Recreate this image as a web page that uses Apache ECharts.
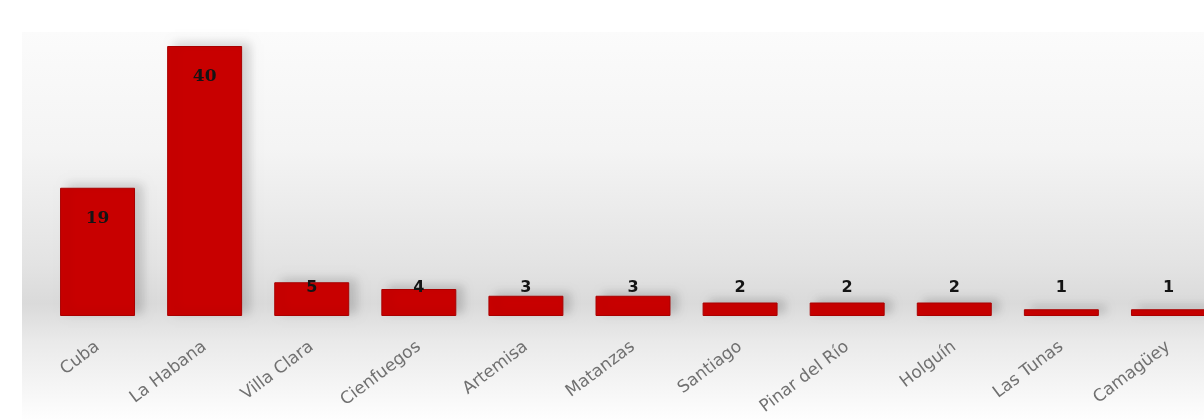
<!DOCTYPE html>
<html>
<head>
<meta charset="utf-8">
<script src="https://cdn.jsdelivr.net/npm/echarts@6/dist/echarts.min.js"></script>
<style>
  html, body { margin: 0; padding: 0; background: #ffffff; overflow: hidden; }
  /* the drawing runs a little past the right edge of the window, so the last bar is cut */
  #chart { width: 1222px; height: 420px; }
</style>
</head>
<body>
<div id="chart"></div>
<script>
// Provinces and their counts
const provinces = ['Cuba', 'La Habana', 'Villa Clara', 'Cienfuegos', 'Artemisa', 'Matanzas',
  'Santiago', 'Pinar del Río', 'Holguín', 'Las Tunas', 'Camagüey'];
const counts = [19, 40, 5, 4, 3, 3, 2, 2, 2, 1, 1];
const axisMax = 40;

const chart = echarts.init(document.getElementById('chart'), null, { renderer: 'canvas' });

// Tall bars carry their number inside the top; short bars show it just above the baseline band
const barData = counts.map(function (v) {
  const tall = v >= 10;
  return {
    value: v,
    label: tall
      ? { position: 'insideTop', distance: 22, fontFamily: 'DejaVu Serif', fontSize: 17 }
      : { position: 'insideBottom', distance: 20, fontFamily: 'DejaVu Sans', fontSize: 16 }
  };
});

chart.setOption({
  backgroundColor: '#ffffff',
  animation: false,
  graphic: [{
    type: 'rect',
    silent: true,
    z: -10,
    shape: { x: 22, y: 32, width: 1200, height: 388 },
    style: {
      fill: new echarts.graphic.LinearGradient(0, 0, 0, 1, [
        { offset: 0, color: '#fbfbfb' },
        { offset: 0.3, color: '#f4f4f4' },
        { offset: 0.6, color: '#e3e3e3' },
        { offset: 0.7, color: '#dadada' },
        { offset: 0.8, color: '#eaeaea' },
        { offset: 1, color: '#fefefe' }
      ])
    }
  }],
  grid: { left: 44, right: 0, top: 46, bottom: 104, containLabel: false },
  xAxis: {
    type: 'category',
    data: provinces,
    axisLine: { show: false },
    axisTick: { show: false },
    axisLabel: {
      rotate: 37,
      margin: 29,
      interval: 0,
      color: '#707070',
      fontFamily: 'DejaVu Sans',
      fontSize: 17
    }
  },
  yAxis: {
    type: 'value',
    min: 0,
    max: axisMax,
    show: false,
    splitLine: { show: false }
  },
  series: [{
    type: 'bar',
    data: barData,
    barWidth: '70%',
    itemStyle: {
      color: '#c80000',
      borderColor: '#a80000',
      borderWidth: 1,
      shadowColor: 'rgba(0,0,0,0.16)',
      shadowBlur: 10,
      shadowOffsetX: 7,
      shadowOffsetY: -3
    },
    label: {
      show: true,
      color: '#141414',
      fontWeight: 'bold'
    }
  }]
});
</script>
</body>
</html>
